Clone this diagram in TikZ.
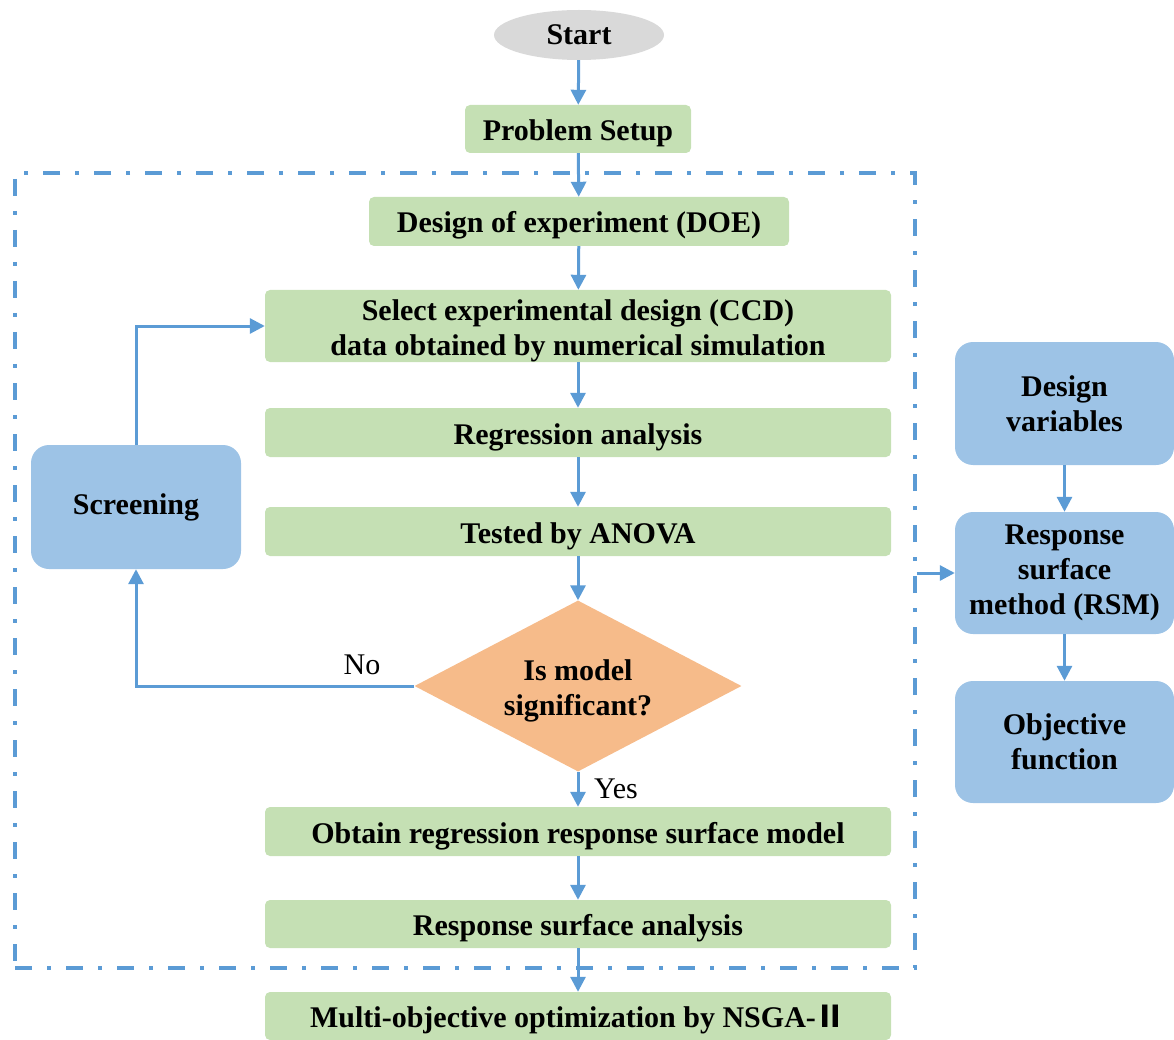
\documentclass[tikz,border=0pt]{standalone}
\usepackage{fontspec}
\setmainfont{Liberation Serif}
\newfontfamily\cjkf{Noto Sans CJK SC}
\usetikzlibrary{shapes.geometric,arrows.meta}
\definecolor{lgreen}{HTML}{C5E0B4}
\definecolor{lblue}{HTML}{9DC3E6}
\definecolor{mblue}{HTML}{5B9BD5}
\definecolor{lorange}{HTML}{F6BB8A}
\definecolor{lgray}{HTML}{D9D9D9}
\newcommand{\dn}[1]{\raisebox{-4.5pt}[\height][\depth]{\begin{tabular}{@{}c@{}}#1\end{tabular}}}
\begin{document}
\begin{tikzpicture}[x=1pt,y=-1pt,
  txt/.style={font=\fontsize{30}{35}\selectfont\bfseries, align=center, inner sep=0pt},
  gbox/.style={txt, fill=lgreen, rounded corners=5pt, minimum width=626pt, minimum height=49pt},
  bbox/.style={txt, fill=lblue, rounded corners=18pt},
  arr/.style={draw=mblue, line width=3pt, -{Triangle[length=15pt,width=15pt]}},
  lbl/.style={font=\fontsize{30}{35}\selectfont, inner sep=0pt},
  frame/.style={draw=mblue, line width=3.5pt, dash pattern=on 17pt off 15pt on 4pt off 15pt, minimum width=900pt, minimum height=795pt, inner sep=0pt}]
\useasboundingbox (0,0) rectangle (1174,1040);
\node[frame] (box) at (465,570.5) {};
\node[txt, ellipse, fill=lgray, minimum width=170pt, minimum height=50pt] (start) at (579,35) {Start};
\node[gbox, minimum width=226pt, minimum height=48pt] (setup) at (578,129) {\dn{Problem Setup}};
\node[gbox, minimum width=420pt] (doe) at (579,221.5) {\dn{Design of experiment (DOE)}};
\node[gbox, minimum height=72pt] (sel) at (578,326) {\dn{Select experimental design (CCD)\\data obtained by numerical simulation}};
\node[gbox] (reg) at (578,432.5) {\dn{Regression analysis}};
\node[gbox] (anova) at (578,531.5) {\dn{Tested by ANOVA}};
\node[txt, diamond, aspect=1.9, fill=lorange, minimum width=327pt, minimum height=171pt] (dec) at (578,686) {\dn{Is model\\significant?}};
\node[gbox] (obt) at (578,831.5) {\dn{Obtain regression response surface model}};
\node[gbox, minimum height=48pt] (rsa) at (578,924) {\dn{Response surface analysis}};
\node[gbox, minimum height=48pt] (moo) at (578,1016) {\dn{Multi-objective optimization by NSGA-{\cjkf Ⅱ}}};
\node[bbox, minimum width=210pt, minimum height=124pt] (scr) at (136,507) {Screening};
\node[bbox, minimum width=219pt, minimum height=123pt] (dv) at (1064.5,403.5) {Design\\variables};
\node[bbox, minimum width=219pt, minimum height=122pt] (rsm) at (1064.5,573) {Response\\surface\\method (RSM)};
\node[bbox, minimum width=219pt, minimum height=122pt] (obj) at (1064.5,742) {Objective\\function};
\node[lbl] (no) at (362,665) {No};
\node[lbl] (yes) at (616,789) {Yes};
\draw[arr] (start) -- (setup);
\draw[arr] (setup) -- (doe);
\draw[arr] (doe) -- (sel);
\draw[arr] (sel) -- (reg);
\draw[arr] (reg) -- (anova);
\draw[arr] (anova) -- (dec);
\draw[arr] (dec) -- (obt);
\draw[arr] (obt) -- (rsa);
\draw[arr] (rsa) -- (moo);
\draw[arr] (dec.west) -| (scr.south);
\draw[arr] (scr.north) |- (sel.west);
\draw[arr] (box.east |- rsm.west) -- (rsm.west);
\draw[arr] (dv) -- (rsm);
\draw[arr] (rsm) -- (obj);
\end{tikzpicture}
\end{document}
